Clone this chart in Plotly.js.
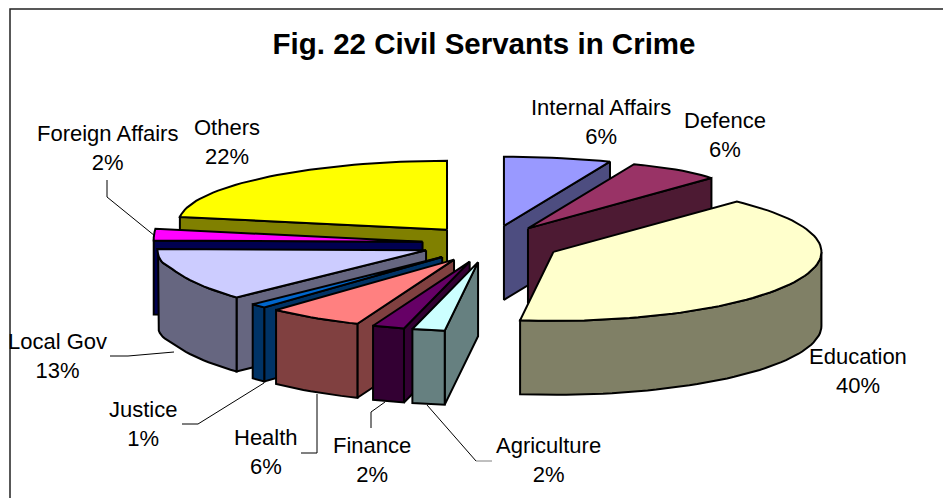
<!DOCTYPE html>
<html>
<head>
<meta charset="utf-8">
<script src="https://cdn.plot.ly/plotly-3.0.1.min.js"></script>
<style>html,body{margin:0;padding:0;background:#fff}#chart{width:943px;height:498px}</style>
</head>
<body>
<div id="chart"></div>
<script>
const categories = ["Internal Affairs","Defence","Education","Agriculture","Finance","Health","Justice","Local Gov","Foreign Affairs","Others"];
const percents = [6,6,40,2,2,6,1,13,2,22];
const topColors = ["#9999FF","#993366","#FFFFCC","#CCFFFF","#660066","#FF8080","#0066CC","#CCCCFF","#FF00FF","#FFFF00"];
const wallColors = ["#4D4D80","#4D1A33","#808066","#668080","#330033","#804040","#003366","#666680","#000050","#808000"];
const drawOrder = [9,0,1,8,7,6,5,4,3,2];
const labelX = [601,725,858,548,372,266,143,57,107,227];
const labelY = [122,135,371,460,460,452,424,356,148,142];

const CX=491, CY=244, RX=268, RY=69, EX=69, EY=18.5, DEPTH=74;
const rad=d=>d*Math.PI/180;
const traces=[];
function poly(xs,ys,fill){
  traces.push({type:"scatter",mode:"lines",x:xs.concat(xs[0]),y:ys.concat(ys[0]),fill:"toself",fillcolor:fill,
    line:{color:"#000",width:2,shape:"linear"},hoverinfo:"skip",showlegend:false});
}
const total=percents.reduce((a,b)=>a+b,0);
let acc=0;
const slices=percents.map(v=>{const a0=acc/total*360;acc+=v;return {a0,a1:acc/total*360};});
// small corrections for the source chart's 3D projection
function xScale(a){
  if(a<43.2) return 1+0.075*Math.sin(rad(a*180/43.2));
  if(a>=180&&a<=270) return 1-0.03*Math.sin(rad(2*a));
  if(a>270) return 1+0.04*Math.abs(Math.sin(rad(2*a)));
  return 1;
}
function yBump(a){return (a>255&&a<281)?4*Math.sin(Math.PI*(a-255)/26):0;}
function rim(ax,ay,a){return [ax+RX*xScale(a)*Math.sin(rad(a)),ay-RY*Math.cos(rad(a))+yBump(a)];}
function radialWall(ax,ay,a,c){
  const p=rim(ax,ay,a);
  poly([ax,p[0],p[0],ax],[ay,p[1],p[1]+DEPTH,ay+DEPTH],c);
}
drawOrder.forEach(i=>{
  const {a0,a1}=slices[i], mid=(a0+a1)/2;
  const ax=CX+EX*Math.sin(rad(mid)), ay=CY-EY*Math.cos(rad(mid));
  const c=wallColors[i];
  if(Math.sin(rad(a0))<-1e-6) radialWall(ax,ay,a0,c);
  if(Math.sin(rad(a1))>1e-6) radialWall(ax,ay,a1,c);
  const f0=Math.max(a0,90), f1=Math.min(a1,270);
  if(f1>f0){
    const n=Math.max(2,Math.ceil((f1-f0)/2)), up=[], down=[];
    for(let k=0;k<=n;k++){const p=rim(ax,ay,f0+(f1-f0)*k/n);up.push(p);down.unshift([p[0],p[1]+DEPTH]);}
    const pts=up.concat(down);
    poly(pts.map(p=>p[0]),pts.map(p=>p[1]),c);
  }
  const n=Math.max(2,Math.ceil((a1-a0)/2)), xs=[ax], ys=[ay];
  for(let k=0;k<=n;k++){const p=rim(ax,ay,a0+(a1-a0)*k/n);xs.push(p[0]);ys.push(p[1]);}
  poly(xs,ys,topColors[i]);
});

const leaders=[
  {p:"M107,180 L107,197 L155,236",c:"#000"},
  {p:"M110,356 L128,356 L174,352",c:"#000"},
  {p:"M182,424 L198,424 L264,383",c:"#000"},
  {p:"M301,453 L317,453 L317,394",c:"#000"},
  {p:"M371,428 L371,412 L385,402",c:"#000"},
  {p:"M427,405 L476,461",c:"#000"},
  {p:"M476,461 L492,461",c:"#808080"}
];
const shapes=leaders.map(l=>({type:"path",xref:"x",yref:"y",path:l.p,line:{color:l.c,width:1},layer:"above"}));
shapes.push({type:"path",xref:"x",yref:"y",path:"M10,498 L10,9 L943,9",line:{color:"#222",width:1.5},layer:"above"});

const annotations=categories.map((c,i)=>({xref:"x",yref:"y",x:labelX[i],y:labelY[i],text:c+"<br>"+percents[i]+"%",
  showarrow:false,xanchor:"center",yanchor:"middle",align:"center",
  font:{family:"Liberation Sans, Arial, sans-serif",size:22,color:"#000"}}));

Plotly.newPlot("chart",traces,{
  width:943,height:498,margin:{l:0,r:0,t:0,b:0},paper_bgcolor:"#fff",plot_bgcolor:"#fff",showlegend:false,
  title:{text:"<b>Fig. 22 Civil Servants in Crime</b>",x:484/943,xref:"paper",xanchor:"center",y:1-44/498,yref:"paper",yanchor:"middle",
    font:{family:"Liberation Sans, Arial, sans-serif",size:29.5,color:"#000"}},
  xaxis:{range:[0,943],visible:false,fixedrange:true},
  yaxis:{range:[498,0],visible:false,fixedrange:true},
  shapes,annotations
},{displayModeBar:false,staticPlot:true});
</script>
</body>
</html>
